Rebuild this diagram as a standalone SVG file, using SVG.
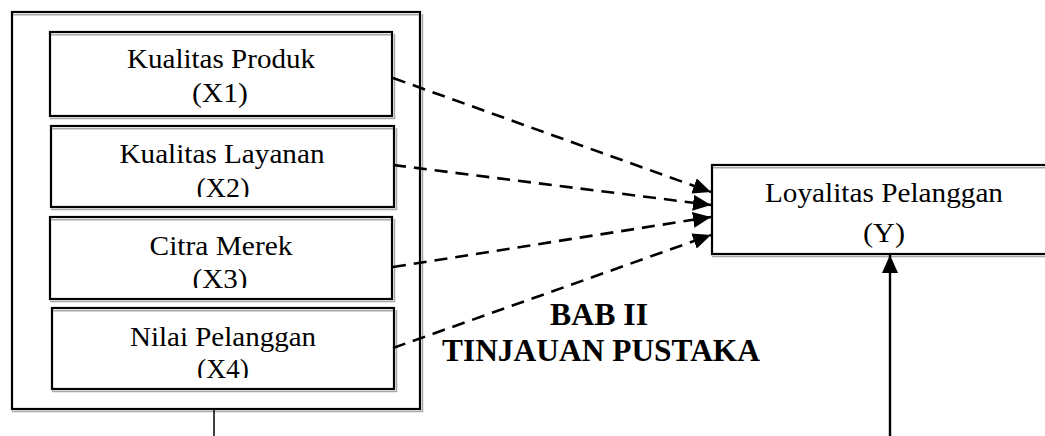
<svg xmlns="http://www.w3.org/2000/svg" width="1045" height="436" viewBox="0 0 1045 436">
<style>
.bx{fill:#fff;stroke:#000;stroke-width:2.2}
.sh{fill:none;stroke:#a8a8a8;stroke-width:1.5}
.t{font-family:"Liberation Serif","Times New Roman",serif;font-size:26.5px;fill:#000;text-anchor:middle}
.b{font-family:"Liberation Serif","Times New Roman",serif;font-size:31px;font-weight:bold;fill:#000;text-anchor:middle}
.d{fill:none;stroke:#000;stroke-width:2.6;stroke-dasharray:13 8}
.s{fill:none;stroke:#000;stroke-width:2.4}
</style>
<defs>
<marker id="ah" markerUnits="userSpaceOnUse" markerWidth="20" markerHeight="16" refX="18" refY="8" orient="auto">
<path d="M0,0 L18,8 L0,16 z" fill="#000"/>
</marker>
<clipPath id="c2"><rect x="50" y="126" width="344" height="71"/></clipPath>
<clipPath id="c3"><rect x="50" y="217" width="344" height="71"/></clipPath>
<clipPath id="c4"><rect x="50" y="308" width="344" height="70"/></clipPath>
</defs>
<rect width="1045" height="436" fill="#fff"/>

<g id="outer">
<rect class="bx" x="12" y="12" width="408" height="397"/>
<path class="sh" d="M13,14.8 H419 M12,411.5 H422.5 V14"/>
</g>

<g id="x1">
<rect class="bx" x="50" y="32" width="342" height="84"/>
<path class="sh" d="M51,34.8 H391 M50,118.5 H394.5 V34"/>
<text class="t" x="221" y="68" textLength="188" lengthAdjust="spacingAndGlyphs">Kualitas Produk</text>
<text class="t" x="220" y="102" textLength="56" lengthAdjust="spacingAndGlyphs">(X1)</text>
</g>

<g id="x2">
<rect class="bx" x="51" y="126" width="343" height="81"/>
<path class="sh" d="M52,128.8 H393 M51,209.5 H396.5 V128"/>
<text class="t" x="222" y="163" textLength="205" lengthAdjust="spacingAndGlyphs">Kualitas Layanan</text>
<text class="t" x="223" y="197" textLength="53" lengthAdjust="spacingAndGlyphs" clip-path="url(#c2)">(X2)</text>
</g>

<g id="x3">
<rect class="bx" x="50" y="217" width="342" height="82"/>
<path class="sh" d="M51,219.8 H391 M50,301.5 H394.5 V219"/>
<text class="t" x="221" y="255" textLength="143" lengthAdjust="spacingAndGlyphs">Citra Merek</text>
<text class="t" x="220" y="288" textLength="55" lengthAdjust="spacingAndGlyphs" clip-path="url(#c3)">(X3)</text>
</g>

<g id="x4">
<rect class="bx" x="52" y="308" width="342" height="81"/>
<path class="sh" d="M53,310.8 H393 M52,391.5 H396.5 V310"/>
<text class="t" x="223" y="346" textLength="186" lengthAdjust="spacingAndGlyphs">Nilai Pelanggan</text>
<text class="t" x="223" y="378" textLength="52" lengthAdjust="spacingAndGlyphs" clip-path="url(#c4)">(X4)</text>
</g>

<g id="y">
<rect class="bx" x="712" y="165" width="340" height="89"/>
<path class="sh" d="M713,167.8 H1046 M712,256.5 H1046"/>
<text class="t" x="884" y="202" textLength="238" lengthAdjust="spacingAndGlyphs">Loyalitas Pelanggan</text>
<text class="t" x="884" y="242" textLength="42" lengthAdjust="spacingAndGlyphs">(Y)</text>
</g>

<g id="title">
<text class="b" x="599" y="325" textLength="98" lengthAdjust="spacingAndGlyphs">BAB II</text>
<text class="b" x="601" y="361" textLength="318" lengthAdjust="spacingAndGlyphs">TINJAUAN PUSTAKA</text>
</g>

<g id="connectors">
<line class="d" x1="393" y1="78" x2="711" y2="192" marker-end="url(#ah)"/>
<line class="d" x1="393" y1="165" x2="711" y2="205" marker-end="url(#ah)"/>
<line class="d" x1="393" y1="267" x2="711" y2="217" marker-end="url(#ah)"/>
<line class="d" x1="393" y1="348" x2="711" y2="235" marker-end="url(#ah)"/>
<line class="s" x1="890" y1="436" x2="890" y2="255" marker-end="url(#ah)"/>
<line stroke="#000" stroke-width="1.5" x1="214" y1="410" x2="214" y2="436"/>
</g>
</svg>
